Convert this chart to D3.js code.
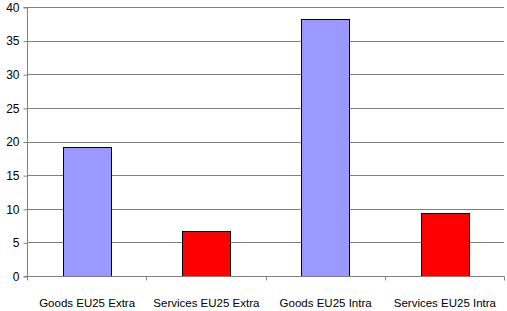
<!DOCTYPE html>
<html><head><meta charset="utf-8">
<script src="https://cdn.jsdelivr.net/npm/d3@7"></script>
<style>body{margin:0;background:#fff;} text{font-family:"Liberation Sans",Arial,sans-serif;}</style>
</head><body>
<svg id="c" width="507" height="311"></svg>
<script>
const categories = ["Goods EU25 Extra","Services EU25 Extra","Goods EU25 Intra","Services EU25 Intra"];
const values = [19.2, 6.7, 38.2, 9.4];
const colors = ["#9999FF","#FF0000","#9999FF","#FF0000"];
const yTicks = [0,5,10,15,20,25,30,35,40];

(function(){
const svg = d3.select("#c");
const mLeft = 27, mRight = 504, mTop = 7, mBottom = 276;
const x = d3.scaleBand().domain(categories).range([mLeft,mRight]).paddingInner(0.6).paddingOuter(0.3);
const xOuter = d3.scaleBand().domain(categories).range([mLeft,mRight]);
const y = d3.scaleLinear().domain([0,40]).range([mBottom,mTop]);

svg.append("g").selectAll("line").data(yTicks.filter(d=>d>0)).join("line")
  .attr("x1",mLeft).attr("x2",mRight).attr("y1",d=>Math.round(y(d))+0.5).attr("y2",d=>Math.round(y(d))+0.5)
  .attr("stroke","#808080").attr("stroke-width",1);

svg.append("g").selectAll("rect").data(values).join("rect")
  .attr("x",(d,i)=>Math.round(x(categories[i]))+0.5)
  .attr("y",d=>Math.round(y(d))+0.5)
  .attr("width",Math.round(x.bandwidth()))
  .attr("height",d=>mBottom-Math.round(y(d)))
  .attr("fill",(d,i)=>colors[i])
  .attr("stroke","#000").attr("stroke-width",1);

const ya = svg.append("g").attr("transform",`translate(${mLeft+0.5},0.5)`)
  .call(d3.axisLeft(y).tickValues(yTicks).tickSize(4).tickPadding(4));
ya.select(".domain").attr("stroke","#808080").attr("d",`M-4,${y(0)}H0V${y(40)}H-4`);
ya.selectAll(".tick line").attr("stroke","#808080");
ya.selectAll("text").attr("font-size","12px").attr("fill","#000").attr("font-family","Liberation Sans, Arial, sans-serif");

const xa = svg.append("g").attr("transform",`translate(0.5,${mBottom+0.5})`);
xa.append("line").attr("x1",mLeft).attr("x2",mRight).attr("stroke","#808080");
const bounds = categories.map(c=>Math.round(xOuter(c))).concat([mRight]);
xa.selectAll("line.t").data(bounds).join("line").attr("class","t")
  .attr("x1",d=>d).attr("x2",d=>d).attr("y1",0).attr("y2",4).attr("stroke","#808080");
xa.selectAll("text").data(categories).join("text")
  .attr("x",d=>xOuter(d)+xOuter.bandwidth()/2).attr("y",30)
  .attr("text-anchor","middle").attr("font-size","11.5px").attr("fill","#000")
  .text(d=>d);
})();
</script>
</body></html>
